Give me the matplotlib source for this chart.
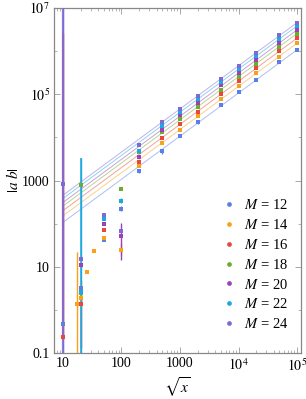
import matplotlib
matplotlib.use('Agg')
import matplotlib.pyplot as plt
import numpy as np
from matplotlib.lines import Line2D
from matplotlib.ticker import LogLocator, FixedLocator, NullFormatter

plt.rcParams['font.family'] = ['Liberation Serif', 'DejaVu Serif']
plt.rcParams['mathtext.fontset'] = 'stix'

masses = [12, 14, 16, 18, 20, 22, 24]
colors = ['#5a7fe6', '#f7a11c', '#e8483b', '#6cae2c', '#9c42b8', '#1ea8e0', '#7c6ad8']

# fitted slope-one lines |ab| = c * sqrt(x)
fit_coef = [10.7, 15.2, 20.0, 25.6, 31.0, 38.3, 45.7]
fit_x = [10, 1e5]

# regular columns (sqrt x >= 200)
x_big = [200, 500, 1000, 2000, 5000, 1e4, 2e4, 5e4, 1e5]
y_big = {
    12: [1630, 4760, 11000, 22300, 55500, 112000, 216000, 556000, 1.07e6],
    14: [2220, 7450, 15100, 30800, 77500, 152000, 310000, 747000, 1.52e6],
    16: [2650, 9800, 20500, 39800, 99000, 202000, 403000, 1.0e6, 2.0e6],
    18: [4500, 13100, 26900, 50600, 128000, 257000, 515000, 1.26e6, 2.56e6],
    20: [3500, 15100, 32600, 62600, 160000, 317000, 630000, 1.55e6, 3.10e6],
    22: [4800, 18700, 38700, 77500, 191000, 382000, 775000, 1.92e6, 3.83e6],
    24: [6600, 22300, 46200, 92300, 228000, 463000, 927000, 2.34e6, 4.57e6],
}
# relative error on the regular columns
rel_big = {
    12: [0.10, 0.15, 0.05, 0.08, 0.04, 0.04, 0.08, 0.04, 0.04],
    14: [0.05] * 9, 16: [0.04] * 9, 18: [0.04] * 9,
    20: [0.04] * 9, 22: [0.06] * 9, 24: [0.04] * 9,
}

# scattered small-x points: x, y, lower end, upper end
x_small = {
    12: [10, 20, 50, 100],
    14: [17.3, 20, 25.4, 34, 50, 100],
    16: [10, 20, 50],
    18: [20, 20, 100],
    20: [20, 50, 100],
    22: [20, 50, 100],
    24: [10, 20, 50, 100],
}
y_small = {
    12: [0.47, 3.2, 42, 222],
    14: [1.35, 1.9, 7.4, 23.6, 47, 25],
    16: [0.23, 1.35, 70],
    18: [780, 2.5, 650],
    20: [10.7, 96, 52],
    22: [2.6, 129, 330],
    24: [830, 15, 155, 68],
}
lo_small = {
    12: [0.45, 3.0, 39, 200],
    14: [0.01, 1.5, 7.0, 22.5, 44, 19],
    16: [0.21, 0.13, 67],
    18: [750, 2.3, 620],
    20: [10.0, 92, 14],
    22: [0.01, 122, 300],
    24: [1e-3, 14, 148, 64],
}
hi_small = {
    12: [0.5, 3.4, 45, 250],
    14: [21.5, 5.0, 7.8, 24.8, 50, 36],
    16: [2.6e6, 2.0, 73],
    18: [810, 2.7, 680],
    20: [11.5, 100, 105],
    22: [3400, 136, 390],
    24: [1e9, 16, 162, 72],
}

fig = plt.figure(figsize=(3.06, 3.99), dpi=100)
ax = fig.add_axes([54 / 306, 46 / 399, 247 / 306, 345 / 399])
ax.set_xscale('log')
ax.set_yscale('log')

for i, m in enumerate(masses):
    c = colors[i]
    ax.plot(fit_x, [fit_coef[i] * v for v in fit_x], color=c, lw=0.7, alpha=0.5, zorder=1)

    yb = np.array(y_big[m])
    eb = yb * np.array(rel_big[m])
    ax.errorbar(x_big, yb, yerr=eb, fmt='s', ms=2.6, color=c, ecolor=c,
                elinewidth=0.9, capsize=1.8, capthick=0.9, mew=0, zorder=3)

    ys = np.array(y_small[m])
    lo = ys - np.array(lo_small[m])
    hi = np.array(hi_small[m]) - ys
    big_bar = (np.array(hi_small[m]) / ys) > 100
    ax.errorbar(x_small[m], ys, yerr=[lo, hi], fmt='s', ms=2.6, color=c, ecolor=c,
                elinewidth=1.0, capsize=1.8, capthick=0.9, mew=0, zorder=3)
    for xx, yy, ll, hh, wide in zip(x_small[m], ys, lo_small[m], hi_small[m], big_bar):
        if wide:
            ax.vlines(xx, ll, hh, color=c, lw=1.6 if m == 24 else 1.3, alpha=0.85, zorder=2)

ax.set_xlim(7.02, 1.17e5)
ax.set_ylim(0.1, 1e7)

ax.xaxis.set_major_locator(FixedLocator([10, 100, 1000, 1e4, 1e5]))
ax.set_xticklabels(['10', '100', '1000', r'$10^{4}$', r'$10^{5}$'])
ax.yaxis.set_major_locator(FixedLocator([0.1, 10, 1000, 1e5, 1e7]))
ax.set_yticklabels(['0.1', '10', '1000', r'$10^{5}$', r'$10^{7}$'])
ax.xaxis.set_minor_locator(LogLocator(base=10, subs=np.arange(2, 10), numticks=20))
ax.yaxis.set_minor_locator(FixedLocator([1, 100, 1e4, 1e6]))
ax.xaxis.set_minor_formatter(NullFormatter())
ax.yaxis.set_minor_formatter(NullFormatter())

ax.tick_params(which='both', direction='in', top=True, right=True, color='#999999',
               labelsize=10, pad=3)
ax.tick_params(which='major', length=4, width=0.6)
ax.tick_params(which='minor', length=2, width=0.5)
for s in ax.spines.values():
    s.set_color('#888888')
    s.set_linewidth(0.9)

ax.set_xlabel(r'$\sqrt{x}$', fontsize=11, labelpad=1)
ax.set_ylabel(r'$|a\ b|$', fontsize=11, labelpad=1)

handles = [Line2D([], [], ls='', marker='o', ms=3.4, mew=0, color=colors[i],
                  label=r'$M$ = %d' % m) for i, m in enumerate(masses)]
ax.legend(handles=handles, loc='lower right', bbox_to_anchor=(1.0, 0.025), frameon=False,
          fontsize=10.5, handlelength=0.8, handletextpad=0.6, labelspacing=0.4)

fig.savefig('out.png', dpi=100)
